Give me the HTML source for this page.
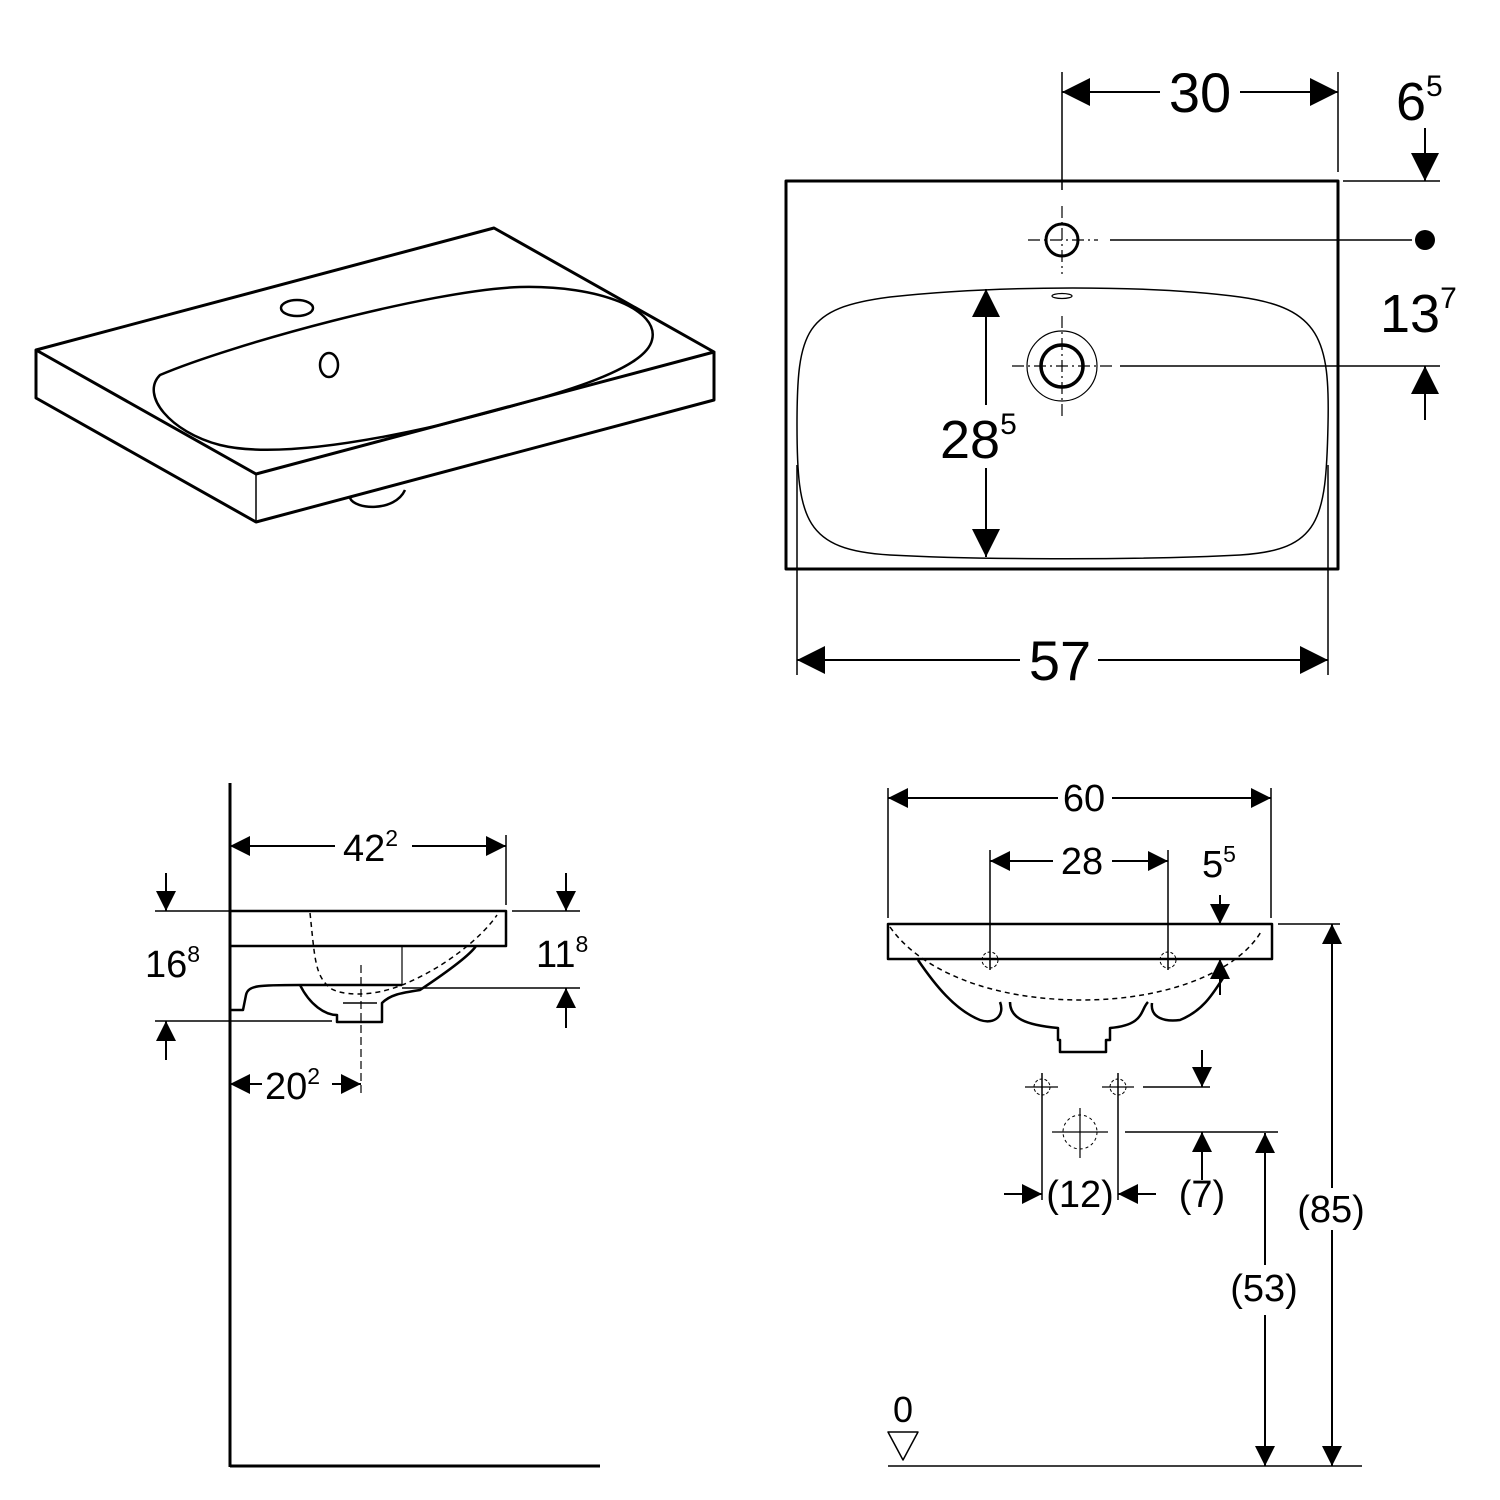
<!DOCTYPE html>
<html><head><meta charset="utf-8"><style>
html,body{margin:0;padding:0;background:#fff}
svg{display:block}
text{font-family:"Liberation Sans",sans-serif;fill:#000}
.A{stroke-width:2;marker-end:url(#a)}
.B{stroke-width:2;marker-end:url(#b)}
</style></head><body>
<svg width="1500" height="1500" viewBox="0 0 1500 1500" xmlns="http://www.w3.org/2000/svg">
<defs>
<marker id="a" viewBox="0 0 10 10" refX="10" refY="5" markerWidth="30" markerHeight="28" markerUnits="userSpaceOnUse" orient="auto"><path d="M0,0 L10,5 L0,10z" fill="#000" stroke="none"/></marker>
<marker id="b" viewBox="0 0 10 10" refX="10" refY="5" markerWidth="22" markerHeight="20" markerUnits="userSpaceOnUse" orient="auto"><path d="M0,0 L10,5 L0,10z" fill="#000" stroke="none"/></marker>
</defs>
<g fill="none" stroke="#000" stroke-linejoin="round">
<path d="M36,350 L494,228 L714,352 L256,474 Z" stroke-width="3"/>
<path d="M36,350 L36,398 L256,522 L714,400 L714,352" stroke-width="3"/>
<path d="M256,474 L256,522" stroke-width="1.5"/>
<path d="M160,375 C230,345 430,290 520,287 C600,285 660,310 652,340 C645,370 560,395 440,425 C330,450 260,455 220,445 C170,432 140,395 160,375 Z" stroke-width="2.5"/>
<ellipse cx="297" cy="308" rx="16" ry="8" stroke-width="2.5"/>
<ellipse cx="329" cy="365" rx="9" ry="12" stroke-width="2.5"/>
<path d="M350,498 C355,510 395,512 405,490" stroke-width="2.5"/>
<rect x="786" y="181" width="552" height="388" stroke-width="3"/>
<path d="M890,297 C1000,285 1150,285 1240,297 C1320,308 1330,340 1328,425 C1326,520 1320,550 1240,555 C1150,560 980,560 890,555 C805,550 797,520 797,425 C797,330 805,308 890,297 Z" stroke-width="1.5"/>
<circle cx="1062" cy="240" r="16" stroke-width="3"/>
<circle cx="1062" cy="366" r="21" stroke-width="3.5"/>
<circle cx="1062" cy="366" r="35" stroke-width="1.2"/>
<path d="M1028,240 H1098 M1062,206 V274 M1012,366 H1112 M1062,316 V416" stroke-width="1.2" stroke-dasharray="12,4,2,4"/>
<ellipse cx="1062" cy="296" rx="10" ry="2.5" stroke-width="1.2"/>
<path d="M1062,72 V190 M1338,72 V172 M1343,181 H1440 M1110,240 H1412 M1120,366 H1440 M797,465 V675 M1328,465 V675" stroke-width="1.5"/>
<circle cx="1425" cy="240" r="10" fill="#000" stroke="none"/>
<path class="A" d="M1160,92 H1062"/>
<path class="A" d="M1240,92 H1338"/>
<path class="A" d="M986,405 V289"/>
<path class="A" d="M986,468 V557"/>
<path class="A" d="M1020,660 H797"/>
<path class="A" d="M1098,660 H1328"/>
<path class="A" d="M1425,128 V181"/>
<path class="A" d="M1425,420 V366"/>
</g>
<g fill="none" stroke="#000" stroke-linejoin="round">
<path d="M230,783 V1467 M230,1466 H600" stroke-width="3"/>
<path d="M230,911 H506 V946 H230" stroke-width="2.5"/>
<path d="M230,1010 H243 L246,995 C248,985 260,985 300,985 L402,985" stroke-width="2.5"/>
<path d="M300,985 C310,1005 325,1015 337,1015 V1022 H382 V1003 C390,995 400,993 420,990 C450,970 470,955 476,946" stroke-width="2.5"/>
<path d="M310,913 C315,960 315,975 330,988 C340,995 370,998 402,985 C440,970 480,940 497,915" stroke-width="1.5" stroke-dasharray="5,4"/>
<path d="M402,946 V985" stroke-width="1.2"/>
<path d="M343,1003 H377" stroke-width="1.5"/>
<path d="M361,965 V1095" stroke-width="1.2" stroke-dasharray="8,4"/>
<path d="M506,835 V905 M155,911 H250 M512,911 H580 M402,988 H580 M155,1021 H332" stroke-width="1.5"/>
<path class="B" d="M335,846 H230"/>
<path class="B" d="M412,846 H506"/>
<path class="B" d="M166,873 V911"/>
<path class="B" d="M166,1060 V1021"/>
<path class="B" d="M566,873 V911"/>
<path class="B" d="M566,1028 V988"/>
<path class="B" d="M262,1084 H230"/>
<path class="B" d="M332,1084 H361"/>
<path d="M888,924 H1272 V959 H888 Z" stroke-width="2.5"/>
<path d="M918,960 C935,985 955,1010 980,1020 C995,1025 1005,1015 1000,1002 M1010,1002 C1010,1018 1025,1025 1058,1028 V1040 H1060 V1052 H1106 V1040 H1110 V1028 C1145,1025 1140,1010 1148,1002 M1152,1003 C1150,1018 1165,1022 1180,1020 C1205,1010 1215,990 1225,975" stroke-width="2.5"/>
<path d="M890,927 C920,970 990,1000 1082,1000 C1170,1000 1240,970 1262,930" stroke-width="1.5" stroke-dasharray="5,4"/>
<circle cx="990" cy="960" r="8" stroke-width="1" stroke-dasharray="3,2"/>
<circle cx="1168" cy="960" r="8" stroke-width="1" stroke-dasharray="3,2"/>
<circle cx="1042" cy="1087" r="8" stroke-width="1" stroke-dasharray="3,2"/>
<circle cx="1118" cy="1087" r="8" stroke-width="1" stroke-dasharray="3,2"/>
<circle cx="1080" cy="1132" r="17" stroke-width="1" stroke-dasharray="3,3"/>
<path d="M1025,1087 H1058 M1102,1087 H1134 M1052,1132 H1108 M1080,1108 V1158" stroke-width="1.2"/>
<path d="M888,788 V918 M1271,788 V918 M990,850 V970 M1168,850 V970 M1042,1073 V1200 M1118,1073 V1200 M1278,924 H1340 M1143,1087 H1210 M1125,1132 H1278 M888,1466 H1362" stroke-width="1.5"/>
<path class="B" d="M1058,798 H888"/>
<path class="B" d="M1112,798 H1271"/>
<path class="B" d="M1053,861 H990"/>
<path class="B" d="M1112,861 H1168"/>
<path class="B" d="M1220,895 V924"/>
<path class="B" d="M1220,995 V959"/>
<path class="B" d="M1202,1050 V1087"/>
<path class="B" d="M1202,1180 V1132"/>
<path class="B" d="M1265,1265 V1133"/>
<path class="B" d="M1265,1315 V1466"/>
<path class="B" d="M1332,1188 V924"/>
<path class="B" d="M1332,1230 V1466"/>
<path class="B" d="M1004,1194 H1042"/>
<path class="B" d="M1156,1194 H1118"/>
<path d="M888,1432 H918 L903,1460 Z" stroke-width="1.5"/>
</g>
<g>
<text x="1200" y="112" font-size="56" text-anchor="middle">30</text>
<text x="1396" y="120" font-size="54">6<tspan font-size="30" dy="-24">5</tspan></text>
<text x="1380" y="332" font-size="54">13<tspan font-size="30" dy="-24">7</tspan></text>
<text x="940" y="458" font-size="54">28<tspan font-size="30" dy="-24">5</tspan></text>
<text x="1060" y="680" font-size="56" text-anchor="middle">57</text>
<text x="343" y="861" font-size="38">42<tspan font-size="23" dy="-15">2</tspan></text>
<text x="145" y="977" font-size="38">16<tspan font-size="23" dy="-15">8</tspan></text>
<text x="536" y="967" font-size="38">11<tspan font-size="23" dy="-15">8</tspan></text>
<text x="265" y="1099" font-size="38">20<tspan font-size="23" dy="-15">2</tspan></text>
<text x="1084" y="811" font-size="38" text-anchor="middle">60</text>
<text x="1082" y="874" font-size="38" text-anchor="middle">28</text>
<text x="1202" y="877" font-size="38">5<tspan font-size="23" dy="-15">5</tspan></text>
<text x="1080" y="1207" font-size="38" text-anchor="middle">(12)</text>
<text x="1202" y="1207" font-size="38" text-anchor="middle">(7)</text>
<text x="1331" y="1222" font-size="38" text-anchor="middle">(85)</text>
<text x="1264" y="1301" font-size="38" text-anchor="middle">(53)</text>
<text x="903" y="1422" font-size="36" text-anchor="middle">0</text>
</g>
</svg>
</body></html>
